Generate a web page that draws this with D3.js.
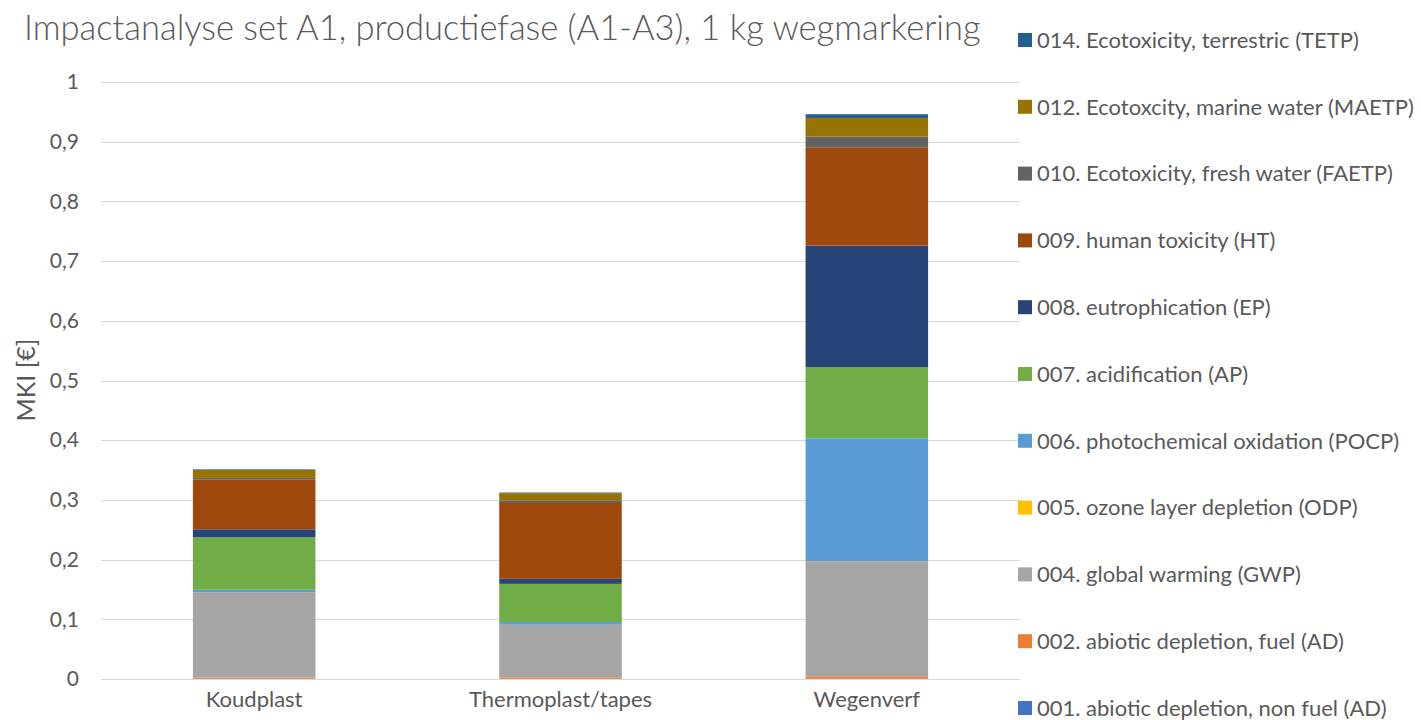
<!DOCTYPE html>
<html>
<head>
<meta charset="utf-8">
<script src="https://cdn.jsdelivr.net/npm/d3@7"></script>
<style>
  html, body { margin: 0; padding: 0; background: #fff; }
  svg { display: block; font-family: Lato, "Open Sans", sans-serif; }
</style>
</head>
<body>
<svg id="chart" width="1421" height="720"></svg>
<script>
// Products compared
const categories = ["Koudplast", "Thermoplast/tapes", "Wegenverf"];

// Impact categories, bottom of the stack first
const seriesKeys = ["001", "002", "004", "005", "006", "007", "008", "009", "010", "012", "014"];
const seriesNames = [
  "001. abiotic depletion, non fuel (AD)",
  "002. abiotic depletion, fuel (AD)",
  "004. global warming (GWP)",
  "005. ozone layer depletion (ODP)",
  "006. photochemical oxidation (POCP)",
  "007. acidification (AP)",
  "008. eutrophication (EP)",
  "009. human toxicity (HT)",
  "010. Ecotoxicity, fresh water (FAETP)",
  "012. Ecotoxcity, marine water (MAETP)",
  "014. Ecotoxicity, terrestric (TETP)"
];
const seriesColors = ["#4472C4", "#ED7D31", "#A5A5A5", "#FFC000", "#5B9BD5", "#70AD47",
                      "#264478", "#9E480E", "#636363", "#997300", "#255E91"];

// MKI contribution in euro per category, per product (Koudplast, Thermoplast/tapes, Wegenverf)
const v001 = [0.0003, 0.0003, 0.0005];
const v002 = [0.002, 0.0025, 0.004];
const v004 = [0.143, 0.088, 0.193];
const v005 = [0.0001, 0.0001, 0.0002];
const v006 = [0.004, 0.0045, 0.2055];
const v007 = [0.088, 0.064, 0.119];
const v008 = [0.0134, 0.0084, 0.2037];
const v009 = [0.083, 0.127, 0.1648];
const v010 = [0.003, 0.0045, 0.0178];
const v012 = [0.0134, 0.012, 0.0313];
const v014 = [0.001, 0.001, 0.0062];

const yTicks = [0, 0.1, 0.2, 0.3, 0.4, 0.5, 0.6, 0.7, 0.8, 0.9, 1];

const seriesValues = [v001, v002, v004, v005, v006, v007, v008, v009, v010, v012, v014];

// Build a table for d3.stack
const table = categories.map((c, i) => {
  const row = { category: c };
  seriesKeys.forEach((k, j) => { row[k] = seriesValues[j][i]; });
  return row;
});

const svg = d3.select("#chart");
const textColor = "#595959";
const plot = { left: 101, right: 1020, top: 82, bottom: 679 };

const x = d3.scaleBand().domain(categories)
  .range([plot.left, plot.right]).paddingInner(0.6).paddingOuter(0.3);
const y = d3.scaleLinear().domain([0, 1]).range([plot.bottom, plot.top]);

// Gridlines
svg.append("g").selectAll("line").data(yTicks).join("line")
  .attr("x1", plot.left).attr("x2", plot.right)
  .attr("y1", d => Math.round(y(d)) + 0.5).attr("y2", d => Math.round(y(d)) + 0.5)
  .attr("stroke", "#d9d9d9").attr("stroke-width", 1);

// Y axis labels
const fmt = d => d3.format("~g")(d).replace(".", ",");
const yAxis = d3.axisLeft(y).tickValues(yTicks).tickFormat(fmt).tickSize(0).tickPadding(0);
const yg = svg.append("g").attr("transform", "translate(79,0)").call(yAxis);
yg.select(".domain").remove();
yg.selectAll("text").attr("fill", textColor).style("font-size", "21px")
  .style("font-family", "Lato, 'Open Sans', sans-serif");

// Stacked bars
const stack = d3.stack().keys(seriesKeys);
const layers = stack(table);
svg.append("g").selectAll("g").data(layers).join("g")
  .attr("fill", (d, i) => seriesColors[i])
  .selectAll("rect").data(d => d).join("rect")
  .attr("x", d => x(d.data.category))
  .attr("width", x.bandwidth())
  .attr("y", d => y(d[1]))
  .attr("height", d => Math.max(0, y(d[0]) - y(d[1])));

// X axis labels
const xAxis = d3.axisBottom(x).tickSize(0).tickPadding(0);
const xg = svg.append("g").attr("transform", `translate(0,${plot.bottom + 12})`).call(xAxis);
xg.select(".domain").remove();
xg.selectAll("text").attr("fill", textColor).style("font-size", "22px")
  .style("font-family", "Lato, 'Open Sans', sans-serif");

// Y axis title
svg.append("text")
  .attr("transform", `translate(35,380) rotate(-90)`)
  .attr("text-anchor", "middle")
  .attr("fill", textColor).style("font-size", "25px")
  .text("MKI [€]");

// Chart title
svg.append("text")
  .attr("x", 24).attr("y", 40)
  .attr("fill", textColor).style("font-size", "34.5px").style("font-weight", 300)
  .text("Impactanalyse set A1, productiefase (A1-A3), 1 kg wegmarkering");

// Legend, top item is the top of the stack
const legendItems = seriesKeys.map((k, i) => ({ name: seriesNames[i], color: seriesColors[i] })).reverse();
const lg = svg.append("g").selectAll("g").data(legendItems).join("g")
  .attr("transform", (d, i) => `translate(1018,${40 + i * 66.8})`);
lg.append("rect").attr("x", 0).attr("y", -7).attr("width", 14).attr("height", 14)
  .attr("fill", d => d.color);
lg.append("text").attr("x", 19).attr("dy", "0.35em")
  .attr("fill", textColor).style("font-size", "22px")
  .text(d => d.name);
</script>
</body>
</html>
